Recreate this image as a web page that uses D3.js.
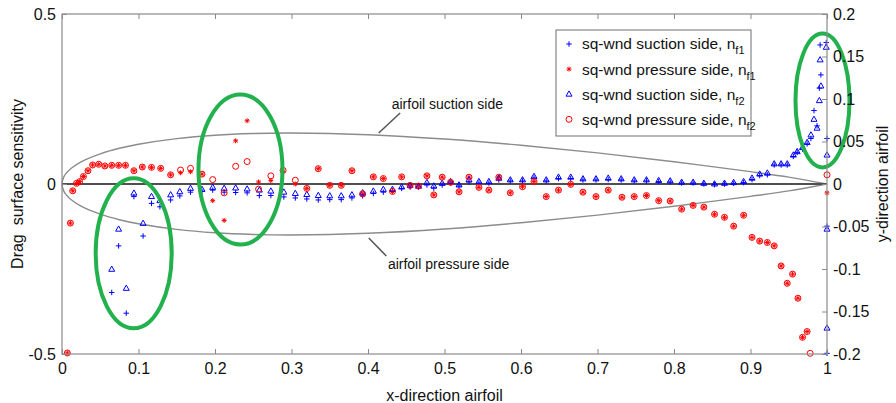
<!DOCTYPE html>
<html>
<head>
<meta charset="utf-8">
<script src="https://cdn.jsdelivr.net/npm/d3@7"></script>
<style>
  body { margin: 0; background: #fff; }
  svg text { font-family: "Liberation Sans", Arial, Helvetica, sans-serif; fill: #111; }
</style>
</head>
<body>
<div id="vis"></div>
<script>
// suction side samples (blue): x, n_f1 (+) and n_f2 (triangle)
var xSuction = [
  0.065, 0.074, 0.084, 0.094, 0.106, 0.117, 0.128, 0.142, 0.154, 0.168,
  0.183, 0.197, 0.212, 0.227, 0.242, 0.258, 0.273, 0.290, 0.305, 0.320,
  0.335, 0.350, 0.365, 0.379, 0.393, 0.407, 0.420, 0.432, 0.444, 0.455,
  0.466, 0.477, 0.486, 0.497, 0.508, 0.519, 0.532, 0.545, 0.558, 0.571,
  0.586, 0.602, 0.617, 0.633, 0.649, 0.665, 0.681, 0.698, 0.714, 0.731,
  0.748, 0.764, 0.780, 0.795, 0.810, 0.825, 0.839, 0.853, 0.866, 0.878,
  0.891, 0.902, 0.912, 0.922, 0.931, 0.940, 0.948, 0.956, 0.961, 0.968,
  0.974, 0.979, 0.983, 0.987, 0.990, 0.992, 0.991, 0.999, 1.000, 1.000,
  1.000
];
var suctionF1 = [
  -0.319, -0.182, -0.380, -0.037, -0.153, -0.057, -0.067, -0.047, -0.035, -0.024,
  -0.021, -0.018, -0.024, -0.025, -0.026, -0.034, -0.034, -0.038, -0.041, -0.044,
  -0.047, -0.046, -0.046, -0.041, -0.035, -0.028, -0.024, -0.019, -0.013, -0.009,
  -0.009, -0.003, -0.012, -0.003, 0.003, -0.006, 0.006, 0.003, 0.003, 0.012,
  0.009, 0.009, 0.018, 0.009, 0.016, 0.016, 0.012, 0.012, 0.013, 0.012,
  0.009, 0.009, 0.007, 0.006, 0.003, 0.003, 0.000, -0.002, 0.000, 0.002,
  0.004, 0.013, 0.025, 0.027, 0.056, 0.056, 0.056, 0.081, 0.093, 0.103,
  0.118, 0.134, 0.216, 0.171, 0.282, 0.321, 0.409, 0.416, 0.134, -0.124,
  -0.498
];
var suctionF2 = [
  -0.251, -0.133, -0.307, -0.027, -0.116, -0.037, -0.049, -0.032, -0.023, -0.013,
  -0.016, -0.010, -0.013, -0.012, -0.015, -0.018, -0.021, -0.024, -0.028, -0.031,
  -0.034, -0.035, -0.035, -0.032, -0.026, -0.021, -0.016, -0.016, -0.009, -0.004,
  -0.007, 0.004, -0.006, 0.002, 0.007, -0.003, 0.012, 0.007, 0.007, 0.017,
  0.012, 0.012, 0.022, 0.012, 0.020, 0.020, 0.015, 0.015, 0.017, 0.015,
  0.012, 0.012, 0.010, 0.009, 0.005, 0.005, 0.002, 0.000, 0.002, 0.004,
  0.007, 0.017, 0.029, 0.032, 0.059, 0.059, 0.059, 0.085, 0.095, 0.107,
  0.122, 0.144, 0.190, 0.164, 0.245, 0.288, 0.365, 0.402, 0.085, -0.133,
  -0.424
];

// pressure side samples (red): x, n_f1 (*) and n_f2 (circle)
var xPressure = [
  0.007, 0.011, 0.014, 0.019, 0.023, 0.028, 0.034, 0.040, 0.048, 0.056,
  0.065, 0.074, 0.083, 0.094, 0.105, 0.117, 0.129, 0.142, 0.155, 0.168,
  0.183, 0.197, 0.212, 0.227, 0.242, 0.257, 0.273, 0.289, 0.305, 0.320,
  0.335, 0.350, 0.365, 0.379, 0.393, 0.407, 0.420, 0.432, 0.444, 0.455,
  0.466, 0.477, 0.486, 0.497, 0.508, 0.519, 0.532, 0.545, 0.558, 0.571,
  0.586, 0.602, 0.617, 0.633, 0.649, 0.665, 0.681, 0.698, 0.714, 0.732,
  0.748, 0.764, 0.780, 0.795, 0.810, 0.825, 0.839, 0.853, 0.866, 0.878,
  0.891, 0.902, 0.912, 0.922, 0.931, 0.940, 0.948, 0.955, 0.962, 0.968,
  0.974, 0.978, 1.000
];
var pressureF1 = [
  -0.497, -0.115, -0.020, 0.002, 0.007, 0.022, 0.039, 0.056, 0.058, 0.053,
  0.055, 0.055, 0.055, 0.039, 0.050, 0.049, 0.046, 0.027, 0.033, 0.036,
  0.029, -0.049, -0.107, 0.127, 0.186, 0.006, 0.010, 0.037, 0.000, -0.013,
  0.045, -0.004, -0.004, 0.039, -0.029, 0.021, 0.016, -0.022, 0.021, -0.004,
  -0.006, 0.024, -0.032, 0.020, 0.005, -0.023, 0.020, -0.010, -0.018, 0.020,
  -0.026, -0.008, 0.007, -0.037, -0.018, -0.001, -0.024, -0.037, -0.018, -0.039,
  -0.037, -0.034, -0.049, -0.050, -0.074, -0.063, -0.068, -0.089, -0.098, -0.124,
  -0.092, -0.157, -0.168, -0.172, -0.182, -0.241, -0.292, -0.265, -0.336, -0.451,
  -0.434, null, -0.026
];
var pressureF2 = [
  -0.497, -0.115, -0.020, 0.002, 0.007, 0.022, 0.039, 0.056, 0.058, 0.053,
  0.055, 0.055, 0.055, 0.039, 0.050, 0.049, 0.046, 0.027, 0.041, 0.046,
  0.029, 0.013, -0.026, 0.052, 0.066, -0.015, 0.024, 0.040, 0.011, -0.013,
  0.045, -0.004, -0.004, 0.039, -0.029, 0.021, 0.016, -0.022, 0.021, -0.004,
  -0.006, 0.024, -0.032, 0.020, 0.005, -0.023, 0.020, -0.010, -0.018, 0.020,
  -0.026, -0.008, 0.007, -0.037, -0.018, -0.001, -0.024, -0.037, -0.018, -0.039,
  -0.037, -0.034, -0.049, -0.050, -0.074, -0.063, -0.068, -0.089, -0.098, -0.124,
  -0.092, -0.157, -0.168, -0.172, -0.182, -0.241, -0.292, -0.265, -0.336, -0.451,
  -0.434, -0.498, 0.027
];

// airfoil outline (half thickness, right axis units)
var foilX = [0, 0.0025, 0.005, 0.0125, 0.025, 0.05, 0.075, 0.1, 0.15, 0.2, 0.25, 0.3, 0.4, 0.5, 0.6, 0.7, 0.8, 0.9, 0.95, 1];
var foilT = [0, 0.0087, 0.0122, 0.0189, 0.0261, 0.0355, 0.0420, 0.0468, 0.0534, 0.0574, 0.0594, 0.0600, 0.0580, 0.0529, 0.0456, 0.0366, 0.0262, 0.0145, 0.0081, 0];

var xTicks = [0, 0.1, 0.2, 0.3, 0.4, 0.5, 0.6, 0.7, 0.8, 0.9, 1];
var leftTicks = [-0.5, 0, 0.5];
var rightTicks = [-0.2, -0.15, -0.1, -0.05, 0, 0.05, 0.1, 0.15, 0.2];

var legendLabels = [
  ['sq-wnd suction side, n', 'f1'],
  ['sq-wnd pressure side, n', 'f1'],
  ['sq-wnd suction side, n', 'f2'],
  ['sq-wnd pressure side, n', 'f2']
];

var width = 896, height = 403;
var plot = { left: 62, right: 827, top: 14, bottom: 354 };

var x = d3.scaleLinear().domain([0, 1]).range([plot.left, plot.right]);
var yL = d3.scaleLinear().domain([-0.5, 0.5]).range([plot.bottom, plot.top]);
var yR = d3.scaleLinear().domain([-0.2, 0.2]).range([plot.bottom, plot.top]);

var blue = '#0000ff', red = '#ff0000', grey = '#8a8a8a';

// marker shapes, size = (2 * half-width)^2
var plusShape = { draw: function (c, s) { var r = Math.sqrt(s) / 2;
  c.moveTo(-r, 0); c.lineTo(r, 0); c.moveTo(0, -r); c.lineTo(0, r); } };
var starShape = { draw: function (c, s) { var r = Math.sqrt(s) / 2, k = r * 0.72;
  c.moveTo(-r, 0); c.lineTo(r, 0); c.moveTo(0, -r); c.lineTo(0, r);
  c.moveTo(-k, -k); c.lineTo(k, k); c.moveTo(-k, k); c.lineTo(k, -k); } };
var triShape = { draw: function (c, s) { var r = Math.sqrt(s) / 2;
  c.moveTo(0, -r * 1.1); c.lineTo(r, r * 0.65); c.lineTo(-r, r * 0.65); c.closePath(); } };
var circShape = { draw: function (c, s) { var r = Math.sqrt(s) / 2;
  c.moveTo(r, 0); c.arc(0, 0, r, 0, 2 * Math.PI); } };

var series = [
  { xs: xSuction, ys: suctionF1, shape: plusShape, size: 30, color: blue, sw: 1 },
  { xs: xPressure, ys: pressureF1, shape: starShape, size: 24, color: red, sw: 1 },
  { xs: xSuction, ys: suctionF2, shape: triShape, size: 36, color: blue, sw: 1 },
  { xs: xPressure, ys: pressureF2, shape: circShape, size: 36, color: red, sw: 1 }
];

var svg = d3.select('#vis').append('svg')
  .attr('width', width)
  .attr('height', height);

// airfoil outline
var foilPts = [];
for (var i = foilX.length - 1; i >= 0; i--) foilPts.push([foilX[i], foilT[i]]);
for (var j = 1; j < foilX.length; j++) foilPts.push([foilX[j], -foilT[j]]);

svg.append('path')
  .datum(foilPts)
  .attr('fill', 'none')
  .attr('stroke', '#8c8c8c')
  .attr('stroke-width', 1.4)
  .attr('d', d3.line()
    .x(function (d) { return x(d[0]); })
    .y(function (d) { return yR(d[1]); })
    .curve(d3.curveCatmullRom.alpha(0.5)));

// chord line
svg.append('line')
  .attr('x1', x(0)).attr('x2', x(1))
  .attr('y1', yR(0)).attr('y2', yR(0))
  .attr('stroke', '#505050')
  .attr('stroke-width', 2.2);

// annotations
var notes = [
  { text: 'airfoil suction side', from: [0.414, 0.150], to: [0.442, 0.209], at: [0.431, 0.236] },
  { text: 'airfoil pressure side', from: [0.401, -0.159], to: [0.424, -0.212], at: [0.426, -0.236] }
];
notes.forEach(function (n) {
  svg.append('line')
    .attr('x1', x(n.from[0])).attr('y1', yL(n.from[1]))
    .attr('x2', x(n.to[0])).attr('y2', yL(n.to[1]))
    .attr('stroke', '#555').attr('stroke-width', 1.5);
  svg.append('text')
    .attr('x', x(n.at[0])).attr('y', yL(n.at[1]))
    .attr('dy', '0.35em')
    .attr('font-size', 14)
    .text(n.text);
});

// scatter series
series.forEach(function (s) {
  var pts = s.xs.map(function (v, k) { return [v, s.ys[k]]; })
    .filter(function (p) { return p[1] !== null; });
  svg.append('g').selectAll('path')
    .data(pts)
    .enter().append('path')
    .attr('transform', function (d) { return 'translate(' + x(d[0]) + ',' + yL(d[1]) + ')'; })
    .attr('d', d3.symbol().type(s.shape).size(s.size))
    .attr('fill', 'none')
    .attr('stroke', s.color)
    .attr('stroke-width', s.sw);
});

// green highlight ellipses
var rings = [
  { cx: 0.0937, cy: -0.204, rx: 0.0497, ry: 0.2206 },
  { cx: 0.2333, cy: 0.0426, rx: 0.0549, ry: 0.2206 },
  { cx: 0.9941, cy: 0.2456, rx: 0.0353, ry: 0.197 }
];
svg.append('g').selectAll('ellipse')
  .data(rings)
  .enter().append('ellipse')
  .attr('cx', function (d) { return x(d.cx); })
  .attr('cy', function (d) { return yL(d.cy); })
  .attr('rx', function (d) { return x(d.rx) - x(0); })
  .attr('ry', function (d) { return yL(0) - yL(d.ry); })
  .attr('fill', 'none')
  .attr('stroke', '#22b14c')
  .attr('stroke-width', 4);

// axes
function styleAxis(g) {
  g.select('.domain').remove();
  g.selectAll('line').attr('stroke', grey);
  g.selectAll('text').attr('font-size', 16).attr('fill', '#111')
    .attr('font-family', '"Liberation Sans", Arial, sans-serif');
}
var fmt = function (d) { return String(d); };

svg.append('g')
  .attr('transform', 'translate(0,' + plot.bottom + ')')
  .call(d3.axisBottom(x).tickValues(xTicks).tickFormat(fmt).tickSize(-5).tickPadding(9))
  .call(styleAxis);
svg.append('g')
  .attr('transform', 'translate(0,' + plot.top + ')')
  .call(d3.axisTop(x).tickValues(xTicks).tickFormat('').tickSize(-5))
  .call(styleAxis);
svg.append('g')
  .attr('transform', 'translate(' + plot.left + ',0)')
  .call(d3.axisLeft(yL).tickValues(leftTicks).tickFormat(fmt).tickSize(-5).tickPadding(6))
  .call(styleAxis);
svg.append('g')
  .attr('transform', 'translate(' + plot.right + ',0)')
  .call(d3.axisRight(yR).tickValues(rightTicks).tickFormat(fmt).tickSize(-5).tickPadding(6))
  .call(styleAxis);

svg.append('rect')
  .attr('x', plot.left).attr('y', plot.top)
  .attr('width', plot.right - plot.left).attr('height', plot.bottom - plot.top)
  .attr('fill', 'none')
  .attr('stroke', grey)
  .attr('stroke-width', 1.2);

// axis titles
svg.append('text')
  .attr('x', x(0.5)).attr('y', 395)
  .attr('dy', '0.35em')
  .attr('text-anchor', 'middle')
  .attr('font-size', 16)
  .text('x-direction airfoil');
svg.append('text')
  .attr('transform', 'translate(17,' + yL(0) + ') rotate(-90)')
  .attr('dy', '0.35em')
  .attr('text-anchor', 'middle')
  .attr('font-size', 16)
  .attr('xml:space', 'preserve')
  .style('white-space', 'pre')
  .text('Drag  surface sensitivity');
svg.append('text')
  .attr('transform', 'translate(882,' + yR(0) + ') rotate(-90)')
  .attr('dy', '0.35em')
  .attr('text-anchor', 'middle')
  .attr('font-size', 16)
  .text('y-direction airfoil');

// legend
var legend = svg.append('g').attr('transform', 'translate(556,30)');
legend.append('rect')
  .attr('width', 195).attr('height', 106)
  .attr('fill', '#fff')
  .attr('stroke', '#6e6e6e')
  .attr('stroke-width', 1);
var rows = legend.selectAll('.row')
  .data(series)
  .enter().append('g')
  .attr('class', 'row')
  .attr('transform', function (d, k) { return 'translate(0,' + (14 + k * 25.1) + ')'; });
rows.append('path')
  .attr('transform', 'translate(13,0)')
  .attr('d', function (d) { return d3.symbol().type(d.shape).size(d.size)(); })
  .attr('fill', 'none')
  .attr('stroke', function (d) { return d.color; })
  .attr('stroke-width', function (d) { return d.sw; });
var lt = rows.append('text')
  .attr('x', 26)
  .attr('dy', '0.35em')
  .attr('font-size', 15.5);
lt.append('tspan').text(function (d, k) { return legendLabels[k][0]; });
lt.append('tspan')
  .attr('font-size', 11)
  .attr('dy', 5)
  .text(function (d, k) { return legendLabels[k][1]; });
</script>
</body>
</html>
